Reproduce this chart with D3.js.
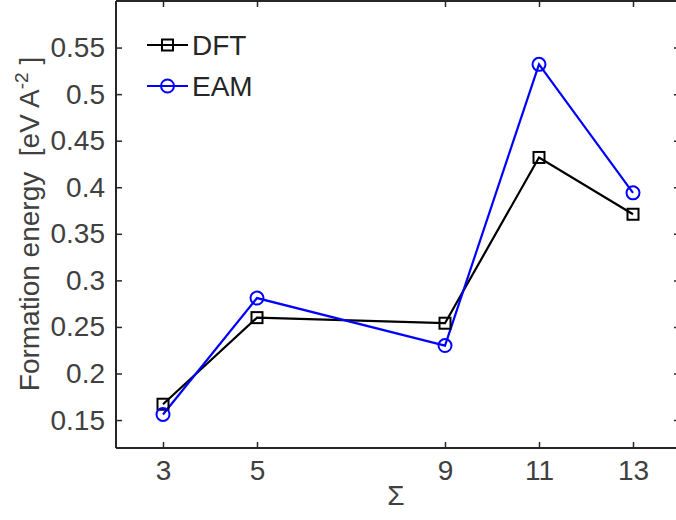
<!DOCTYPE html>
<html>
<head>
<meta charset="utf-8">
<script src="https://cdn.jsdelivr.net/npm/d3@7"></script>
<style>
  html, body { margin: 0; padding: 0; background: #fff; }
  svg { display: block; }
  text { font-family: "Liberation Sans", Arial, Helvetica, sans-serif; white-space: pre; }
</style>
</head>
<body>
<svg id="chart" width="676" height="520"></svg>
<script>
const sigma = [3, 5, 9, 11, 13];
const dftValues = [0.167, 0.260, 0.254, 0.432, 0.371];
const eamValues = [0.156, 0.281, 0.230, 0.532, 0.394];
const xTicks = [3, 5, 9, 11, 13];
const yTicks = [0.15, 0.2, 0.25, 0.3, 0.35, 0.4, 0.45, 0.5, 0.55];
const seriesNames = ["DFT", "EAM"];
const seriesColors = ["#000000", "#0000ff"];

const svg = d3.select("#chart");
const margin = { left: 116, top: 1, right: 680, bottom: 448 };
const axisColor = "#262626";
const textColor = "#404040";
const fontSize = 28;

const x = d3.scaleLinear().domain([2, 14]).range([margin.left, margin.right]);
const y = d3.scaleLinear().domain([0.12, 0.6]).range([margin.bottom, margin.top]);

const tickLen = 6;
const g = svg.append("g");

const xAxisB = d3.axisBottom(x).tickValues(xTicks).tickSize(-tickLen).tickPadding(12).tickFormat(d3.format("d"));
const xAxisT = d3.axisTop(x).tickValues(xTicks).tickSize(-tickLen).tickFormat("");
const yAxisL = d3.axisLeft(y).tickValues(yTicks).tickSize(-tickLen).tickPadding(11).tickFormat(d => String(+d.toFixed(2)));
const yAxisR = d3.axisRight(y).tickValues(yTicks).tickSize(-tickLen).tickFormat("");

function style(sel) {
  sel.attr("font-size", null).attr("font-family", null);
  sel.select(".domain").attr("stroke", axisColor).attr("stroke-width", 2);
  sel.selectAll(".tick line").attr("stroke", axisColor).attr("stroke-width", 1.5);
  sel.selectAll(".tick text").attr("fill", textColor).style("font-size", fontSize + "px");
}

const gb = g.append("g").attr("transform", `translate(0,${margin.bottom})`).call(xAxisB).call(style);
gb.select(".domain").attr("d", `M${margin.left},0H${margin.right}`);
const gt = g.append("g").attr("transform", `translate(0,${margin.top})`).call(xAxisT).call(style);
gt.select(".domain").attr("d", `M${margin.left},0H${margin.right}`);
const gl = g.append("g").attr("transform", `translate(${margin.left},0)`).call(yAxisL).call(style);
gl.select(".domain").attr("d", `M0,${margin.top}V${margin.bottom}`);
const gr = g.append("g").attr("transform", `translate(${margin.right},0)`).call(yAxisR).call(style);
gr.select(".domain").attr("d", `M0,${margin.top}V${margin.bottom}`);

// Labels
svg.append("text")
  .attr("x", 396).attr("y", 505)
  .attr("text-anchor", "middle")
  .attr("fill", textColor).style("font-size", fontSize + "px")
  .text("Σ");

const yl = svg.append("text")
  .attr("transform", `translate(39,224) rotate(-90)`)
  .attr("text-anchor", "middle")
  .attr("fill", textColor).style("font-size", fontSize + "px");
yl.append("tspan").text("Formation energy  [eV A");
yl.append("tspan").attr("dy", -11).style("font-size", "19px").text("-2");
yl.append("tspan").attr("dy", 11).text(" ]");

// Series
const line = d3.line().x((d, i) => x(sigma[i])).y(d => y(d));
const all = [dftValues, eamValues];

all.forEach((vals, si) => {
  svg.append("path").datum(vals)
    .attr("d", line).attr("fill", "none")
    .attr("stroke", seriesColors[si]).attr("stroke-width", 2.2);
});

function marker(sel, si, cx, cy) {
  if (si === 0) {
    sel.append("rect").attr("x", cx - 5.5).attr("y", cy - 5.5).attr("width", 11).attr("height", 11)
      .attr("fill", "none").attr("stroke", seriesColors[si]).attr("stroke-width", 2);
  } else {
    sel.append("circle").attr("cx", cx).attr("cy", cy).attr("r", 6.5)
      .attr("fill", "none").attr("stroke", seriesColors[si]).attr("stroke-width", 2);
  }
}

all.forEach((vals, si) => {
  const mg = svg.append("g");
  vals.forEach((v, i) => marker(mg, si, x(sigma[i]), y(v)));
});

// Legend
const legendY = [45, 86];
seriesNames.forEach((name, si) => {
  const lg = svg.append("g");
  lg.append("line").attr("x1", 147).attr("x2", 188).attr("y1", legendY[si]).attr("y2", legendY[si])
    .attr("stroke", seriesColors[si]).attr("stroke-width", 2.2);
  marker(lg, si, 167.5, legendY[si]);
  lg.append("text").attr("x", 192).attr("y", legendY[si] + 10)
    .attr("fill", "#262626").style("font-size", fontSize + "px").text(name);
});
</script>
</body>
</html>
